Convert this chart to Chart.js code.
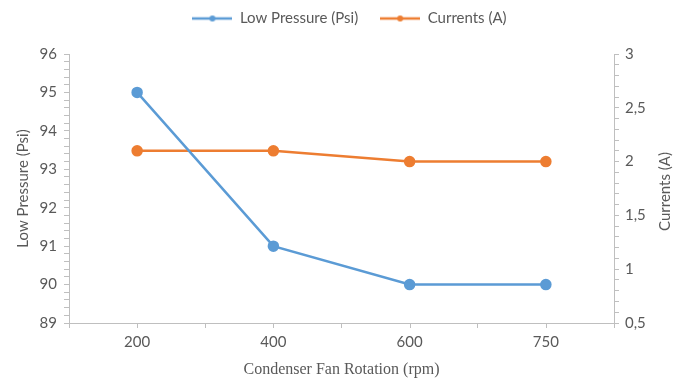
<!DOCTYPE html>
<html>
<head>
<meta charset="utf-8">
<script src="https://cdn.jsdelivr.net/npm/chart.js@4.4.1/dist/chart.umd.min.js"></script>
<style>
  html, body { margin: 0; padding: 0; background: #fff; }
  #wrap { width: 685px; height: 379px; }
</style>
</head>
<body>
<div id="wrap"><canvas id="c" width="685" height="379"></canvas></div>
<script>
const categories = ['200', '400', '600', '750'];
const lowPressure = [95, 91, 90, 90];
const currents = [2.1, 2.1, 2.0, 2.0];
const pressureRange = [89, 96];
const currentRange = [0.5, 3];

const blue = '#5B9BD5';
const orange = '#ED7D31';
const axisGray = '#BFBFBF';
const textGray = '#595959';
const uiFont = 'Lato, "Open Sans", sans-serif';

function legendIcon(color) {
    const cv = document.createElement('canvas');
    cv.width = 40; cv.height = 10;
    const g = cv.getContext('2d');
    g.strokeStyle = color; g.lineWidth = 2.5;
    g.beginPath(); g.moveTo(0, 5); g.lineTo(40, 5); g.stroke();
    g.fillStyle = color;
    g.beginPath(); g.arc(20, 5, 3, 0, Math.PI * 2); g.fill();
    return cv;
}

function isNear(v, step) {
    const r = Math.round(v / step) * step;
    return Math.abs(v - r) < 1e-6;
}

// legend: reserve 53px on top but draw it higher and a bit to the right
const legendSpace = {
    id: 'legendSpace',
    afterInit(chart) {
        const lg = chart.legend;
        const fit = lg.fit;
        lg.fit = function() { fit.call(this); this.height = 53; };
    },
    afterLayout(chart) {
        chart.legend.top -= 12;
        chart.legend.bottom -= 12;
        chart.legend.left += 7;
        chart.legend.right += 7;
    }
};

// extra x tick marks under each category, and right title reading upward
const extras = {
    id: 'extras',
    afterDraw(chart) {
        const ctx = chart.ctx;
        const x = chart.scales.x;
        ctx.save();
        ctx.strokeStyle = axisGray;
        ctx.lineWidth = 1;
        for (let i = 0; i < categories.length; i++) {
            const px = Math.round(x.getPixelForValue(i)) + 0.5;
            ctx.beginPath();
            ctx.moveTo(px, x.top);
            ctx.lineTo(px, x.top + 5);
            ctx.stroke();
        }
        const area = chart.chartArea;
        ctx.translate(665, (area.top + area.bottom) / 2 + 3);
        ctx.rotate(-Math.PI / 2);
        ctx.fillStyle = textGray;
        ctx.font = '15px ' + uiFont;
        ctx.textAlign = 'center';
        ctx.textBaseline = 'middle';
        ctx.fillText('Currents (A)', 0, 0);
        ctx.restore();
    }
};

new Chart(document.getElementById('c'), {
    type: 'line',
    data: {
        labels: categories,
        datasets: [
            {
                label: 'Low Pressure (Psi)',
                data: lowPressure,
                yAxisID: 'y',
                borderColor: blue,
                backgroundColor: blue,
                borderWidth: 2.5,
                pointRadius: 4.5,
                pointHoverRadius: 4.5,
                tension: 0
            },
            {
                label: 'Currents (A)',
                data: currents,
                yAxisID: 'y1',
                borderColor: orange,
                backgroundColor: orange,
                borderWidth: 2.5,
                pointRadius: 4.5,
                pointHoverRadius: 4.5,
                tension: 0
            }
        ]
    },
    options: {
        responsive: false,
        animation: false,
        layout: { padding: { top: 1, bottom: 0, left: 0, right: 0 } },
        plugins: {
            tooltip: { enabled: false },
            legend: {
                position: 'top',
                labels: {
                    usePointStyle: true,
                    pointStyleWidth: 40,
                    color: textGray,
                    font: { family: uiFont, size: 15 },
                    padding: 22,
                    generateLabels: function(chart) {
                        const items = Chart.defaults.plugins.legend.labels.generateLabels(chart);
                        items.forEach(function(it, i) {
                            it.pointStyle = legendIcon(i === 0 ? blue : orange);
                        });
                        return items;
                    }
                }
            }
        },
        scales: {
            x: {
                offset: true,
                grid: { offset: true, drawOnChartArea: false, color: axisGray, tickLength: 5 },
                border: { color: axisGray },
                ticks: { color: textGray, font: { family: uiFont, size: 15 }, padding: 5, maxRotation: 0 },
                title: {
                    display: true,
                    text: 'Condenser Fan Rotation (rpm)',
                    color: textGray,
                    font: { family: '"Liberation Serif", "DejaVu Serif", serif', size: 16 },
                    padding: { top: 1, bottom: 0 }
                },
                afterFit: function(s) { s.height = 56; }
            },
            y: {
                position: 'left',
                min: pressureRange[0],
                max: pressureRange[1],
                grid: { drawOnChartArea: false, color: axisGray, tickLength: 5 },
                border: { color: axisGray },
                ticks: {
                    stepSize: 0.2,
                    autoSkip: false,
                    color: textGray,
                    font: { family: uiFont, size: 15 },
                    padding: 7,
                    callback: function(v) { return isNear(v, 1) ? String(Math.round(v)) : ''; }
                },
                title: {
                    display: true,
                    text: 'Low Pressure (Psi)',
                    color: textGray,
                    font: { family: uiFont, size: 15 },
                    padding: { top: 14, bottom: 0 }
                },
                afterFit: function(s) { s.width = 69; }
            },
            y1: {
                position: 'right',
                min: currentRange[0],
                max: currentRange[1],
                grid: { drawOnChartArea: false, color: axisGray, tickLength: 5 },
                border: { color: axisGray },
                ticks: {
                    stepSize: 0.1,
                    autoSkip: false,
                    color: textGray,
                    font: { family: uiFont, size: 15 },
                    padding: 6,
                    callback: function(v) {
                        if (!isNear(v, 0.5)) return '';
                        return String(Math.round(v * 10) / 10).replace('.', ',');
                    }
                },
                afterFit: function(s) { s.width = 71; }
            }
        }
    },
    plugins: [legendSpace, extras]
});
</script>
</body>
</html>
